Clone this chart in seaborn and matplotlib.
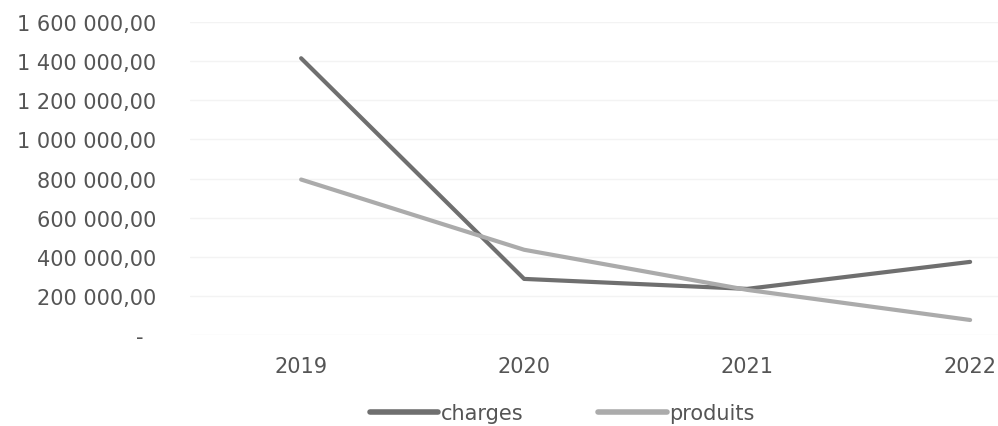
import matplotlib
matplotlib.use("Agg")
import matplotlib.pyplot as plt
import seaborn as sns
import pandas as pd
from matplotlib.ticker import FuncFormatter
from matplotlib.lines import Line2D

years = ["2019", "2020", "2021", "2022"]
charges = [1415000, 287000, 236000, 374000]
produits = [795000, 436000, 231000, 77000]
yticks = [0, 200000, 400000, 600000, 800000, 1000000, 1200000, 1400000, 1600000]

df = pd.DataFrame({
    "x": list(range(len(years))) * 2,
    "value": charges + produits,
    "serie": ["charges"] * len(years) + ["produits"] * len(years),
})

sns.set_theme(style="white")
plt.rcParams['font.family'] = ['DejaVu Sans']

fig = plt.figure(figsize=(9.98, 4.27), dpi=100)
ax = fig.add_axes([0.19, 0.213, 0.81, 0.733])

sns.lineplot(data=df, x="x", y="value", hue="serie",
             palette={"charges": "#6f6f6f", "produits": "#ababab"},
             linewidth=3, ax=ax, legend=False)

ax.set_ylim(0, 1600000)
ax.set_xlim(-0.5, 3.125)
ax.set_yticks(yticks)
ax.set_xticks(range(len(years)))
ax.set_xticklabels(years)

def fmt(v, pos):
    if v == 0:
        return "-  "
    s = f"{int(v):,}".replace(",", " ")
    return s + ",00"

ax.yaxis.set_major_formatter(FuncFormatter(fmt))
ax.grid(axis="y", color="#f3f3f3", linewidth=1)
ax.grid(axis="x", visible=False)
for sp in ax.spines.values():
    sp.set_visible(False)
ax.tick_params(axis="y", length=0, pad=24, labelsize=15, labelcolor="#555555")
ax.tick_params(axis="x", length=0, pad=15, labelsize=15, labelcolor="#555555")
ax.set_xlabel("")
ax.set_ylabel("")

handles = [Line2D([0], [0], color="#6f6f6f", lw=4),
           Line2D([0], [0], color="#ababab", lw=4)]
fig.legend(handles, ["charges", "produits"], loc="center",
           bbox_to_anchor=(562 / 998, 1 - 414 / 427), ncol=2, frameon=False,
           fontsize=15, labelcolor="#555555", handlelength=3.3,
           handletextpad=0.1, columnspacing=3.6)

fig.savefig("out.png", dpi=100)
